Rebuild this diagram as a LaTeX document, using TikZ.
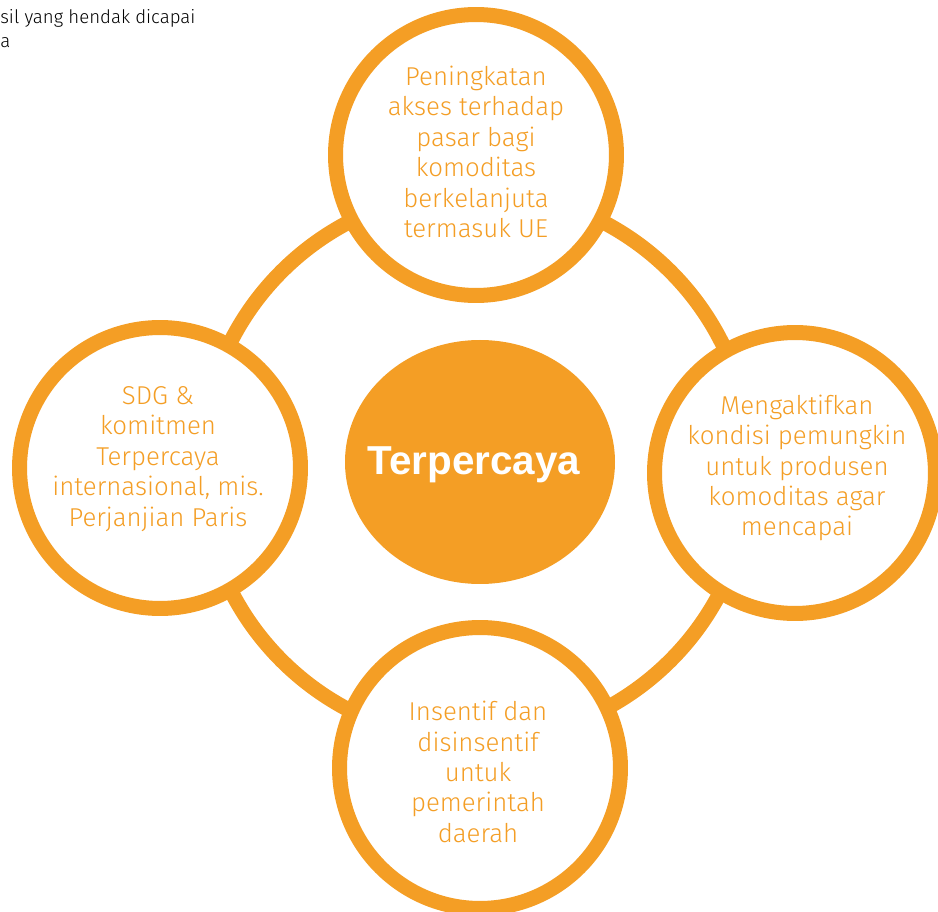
\documentclass[tikz,border=0pt]{standalone}
\usepackage{fontspec}
\setmainfont{Fira Sans Light}
\newfontfamily\hubfont{Liberation Sans}
\usepackage{xcolor}
\usepackage{tikz}
\usetikzlibrary{shapes,positioning}
\definecolor{amber}{HTML}{F49E25}

\begin{document}
\begin{tikzpicture}[x=0.02cm, y=-0.02cm,
    sat/.style={circle, draw=amber, line width=0.3cm, fill=white, minimum size=5.62cm, inner sep=0pt},
    satlabel/.style={text=amber, align=center, inner sep=0pt, font=\fontsize{14.7}{17.3}\selectfont},
    hub/.style={text=white, inner sep=0pt, font=\hubfont\bfseries\fontsize{23}{27}\selectfont}]
    \clip (0,0) rectangle (938,912);

    % Ring
    \coordinate (mid) at (476,466);
    \draw[amber, line width=0.3cm] (mid) circle[radius=275];

    % Outer circles
    \node[sat] (top) at (476,155) {};
    \node[sat] (left) at (160,468) {};
    \node[sat] (right) at (795,473) {};
    \node[sat] (bottom) at (480,768) {};

    \node[satlabel] (toplbl) at (476,152) {Peningkatan\\akses terhadap\\pasar bagi\\komoditas\\berkelanjuta\\termasuk UE};
    \node[satlabel] (leftlbl) at (158,459) {SDG \&\\komitmen\\Terpercaya\\internasional, mis.\\Perjanjian Paris};
    \node[satlabel] (rightlbl) at (797,468) {Mengaktifkan\\kondisi pemungkin\\untuk produsen\\komoditas agar\\mencapai};
    \node[satlabel] (bottomlbl) at (478,772) {Insentif dan\\disinsentif\\untuk\\pemerintah\\daerah};

    % Hub
    \fill[amber] (480,462) ellipse[x radius=135, y radius=122];
    \node[hub] (hub) at (474,465) {Terpercaya};

    % Cut-off note
    \node[anchor=north west, align=left, inner sep=0pt, font=\fontsize{10.6}{14}\selectfont] (note) at (0,9) {sil yang hendak dicapai\\a};
\end{tikzpicture}
\end{document}
